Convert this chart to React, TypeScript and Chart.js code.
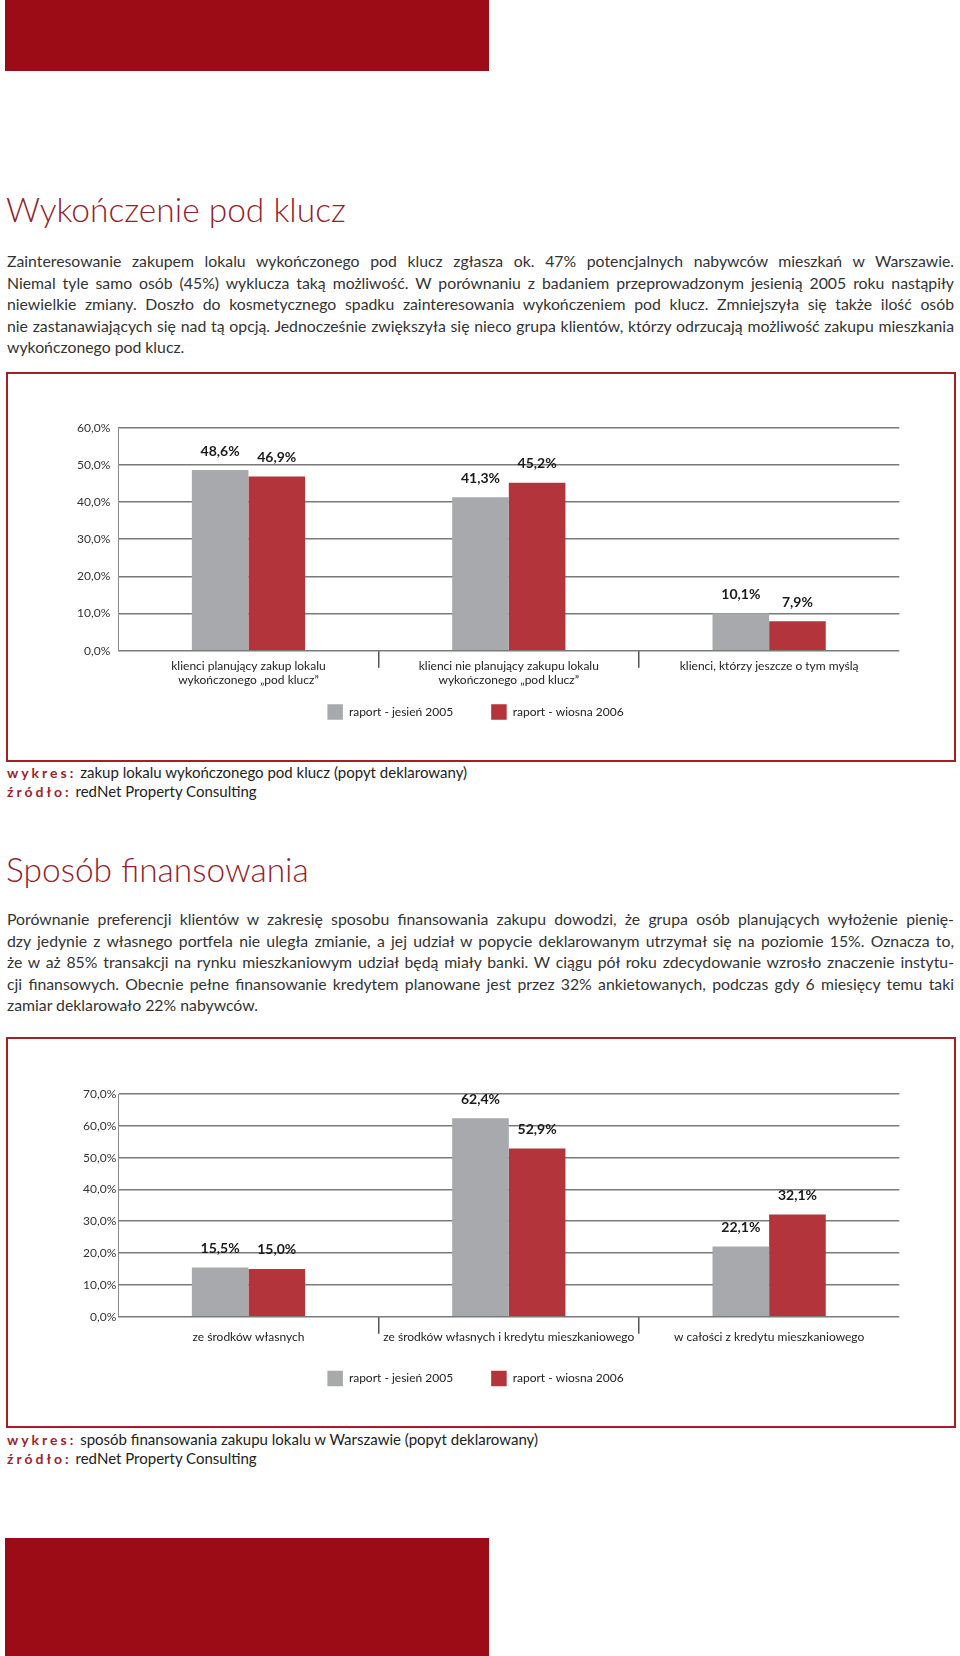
import React, { useEffect, useRef } from 'react';
import { Chart, registerables } from 'chart.js';

Chart.register(...registerables);

// ---------- data ----------
const seriesNames = ['raport - jesień 2005', 'raport - wiosna 2006'];
const seriesColors = ['#a7a9ac', '#b3343a'];

const chart1Categories: (string | string[])[] = [
  ['klienci planujący zakup lokalu', 'wykończonego „pod klucz”'],
  ['klienci nie planujący zakupu lokalu', 'wykończonego „pod klucz”'],
  'klienci, którzy jeszcze o tym myślą',
];
const chart1Autumn2005 = [48.6, 41.3, 10.1];
const chart1Spring2006 = [46.9, 45.2, 7.9];
const chart1YMax = 60;

const chart2Categories: (string | string[])[] = [
  'ze środków własnych',
  'ze środków własnych i kredytu mieszkaniowego',
  'w całości z kredytu mieszkaniowego',
];
const chart2Autumn2005 = [15.5, 62.4, 22.1];
const chart2Spring2006 = [15.0, 52.9, 32.1];
const chart2YMax = 70;
const yStep = 10;

const title1 = 'Wykończenie pod klucz';
const para1Lines = [
  'Zainteresowanie zakupem lokalu wykończonego pod klucz zgłasza ok. 47% potencjalnych nabywców mieszkań w Warszawie.',
  'Niemal tyle samo osób (45%) wyklucza taką możliwość. W porównaniu z badaniem przeprowadzonym jesienią 2005 roku nastąpiły',
  'niewielkie zmiany. Doszło do kosmetycznego spadku zainteresowania wykończeniem pod klucz. Zmniejszyła się także ilość osób',
  'nie zastanawiających się nad tą opcją. Jednocześnie zwiększyła się nieco grupa klientów, którzy odrzucają możliwość zakupu mieszkania',
  'wykończonego pod klucz.',
];
const caption1 = 'zakup lokalu wykończonego pod klucz (popyt deklarowany)';

const title2 = 'Sposób finansowania';
const para2Lines = [
  'Porównanie preferencji klientów w zakresię sposobu finansowania zakupu dowodzi, że grupa osób planujących wyłożenie pienię-',
  'dzy jedynie z własnego portfela nie uległa zmianie, a jej udział w popycie deklarowanym utrzymał się na poziomie 15%. Oznacza to,',
  'że w aż 85% transakcji na rynku mieszkaniowym udział będą miały banki. W ciągu pół roku zdecydowanie wzrosło znaczenie instytu-',
  'cji finansowych. Obecnie pełne finansowanie kredytem planowane jest przez 32% ankietowanych, podczas gdy 6 miesięcy temu taki',
  'zamiar deklarowało 22% nabywców.',
];
const caption2 = 'sposób finansowania zakupu lokalu w Warszawie (popyt deklarowany)';
const sourceText = 'redNet Property Consulting';

// ---------- styles ----------
const FONT = 'Lato, "Open Sans", "DejaVu Sans", sans-serif';
const DARK_RED = '#9c0c16';
const TITLE_RED = '#941f2c';
const BORDER_RED = '#a51d27';

const fmt = (v: number) => v.toFixed(1).replace('.', ',') + '%';

const valueLabelPlugin = {
  id: 'valueLabels',
  afterDatasetsDraw(chart: any) {
    const ctx = chart.ctx;
    ctx.save();
    ctx.font = `bold 14px ${FONT}`;
    ctx.fillStyle = '#1a1a1a';
    ctx.textAlign = 'center';
    ctx.textBaseline = 'alphabetic';
    chart.data.datasets.forEach((ds: any, di: number) => {
      const meta = chart.getDatasetMeta(di);
      meta.data.forEach((bar: any, i: number) => {
        ctx.fillText(fmt(ds.data[i]), bar.x, bar.y - 14.5);
      });
    });
    ctx.restore();
  },
};

type ChartProps = {
  labels: (string | string[])[];
  a: number[];
  b: number[];
  yMax: number;
  width: number;
  height: number;
  padTop: number;
  padBottom: number;
  xHeight: number;
  xTickPad: number;
  yTickPad: number;
};

function BarChart(p: ChartProps) {
  const ref = useRef<HTMLCanvasElement | null>(null);
  useEffect(() => {
    if (!ref.current) return;
    const chart = new Chart(ref.current, {
      type: 'bar',
      data: {
        labels: p.labels as any,
        datasets: [
          {
            label: seriesNames[0],
            data: p.a,
            backgroundColor: seriesColors[0],
            borderColor: seriesColors[0],
            borderWidth: 0,
            categoryPercentage: 0.435,
            barPercentage: 1,
          },
          {
            label: seriesNames[1],
            data: p.b,
            backgroundColor: seriesColors[1],
            borderColor: seriesColors[1],
            borderWidth: 0,
            categoryPercentage: 0.435,
            barPercentage: 1,
          },
        ],
      },
      options: {
        responsive: false,
        animation: false,
        events: [],
        layout: {
          padding: { left: 43.7, right: 54.7, top: p.padTop, bottom: p.padBottom },
        },
        plugins: {
          tooltip: { enabled: false },
          legend: {
            position: 'bottom',
            labels: {
              boxWidth: 15.5,
              boxHeight: 15.5,
              padding: 38,
              color: '#222',
              font: { family: FONT, size: 12 },
            },
          },
        },
        scales: {
          x: {
            grid: {
              offset: true,
              drawOnChartArea: false,
              drawTicks: true,
              tickLength: 17,
              lineWidth: 1.5,
              color: (ctx: any) =>
                ctx.type === 'tick' && ctx.index > 0 ? '#555555' : 'rgba(0,0,0,0)',
            },
            border: { display: false },
            ticks: {
              mirror: true,
              padding: p.xTickPad,
              autoSkip: false,
              maxRotation: 0,
              minRotation: 0,
              color: '#222',
              font: { family: FONT, size: 12, lineHeight: 14 / 12 },
            },
            afterFit: (s: any) => {
              s.height = p.xHeight;
            },
          },
          y: {
            min: 0,
            max: p.yMax,
            ticks: {
              stepSize: yStep,
              padding: p.yTickPad,
              color: '#333',
              font: { family: FONT, size: 12 },
              callback: (v: any) => fmt(Number(v)),
            },
            grid: { color: '#7a7a7a', lineWidth: 1.6, drawTicks: false },
            border: { display: true, color: '#8a8a8a', width: 1 },
            afterFit: (s: any) => {
              s.width = 66.6;
            },
          },
        },
      } as any,
      plugins: [valueLabelPlugin],
    });
    return () => chart.destroy();
  }, []);
  return (
    <canvas
      ref={ref}
      width={p.width}
      height={p.height}
      style={{ display: 'block', width: p.width, height: p.height }}
    />
  );
}

function Paragraph({ lines, top }: { lines: string[]; top: number }) {
  return (
    <div
      style={{
        position: 'absolute',
        left: 7,
        top,
        width: 947,
        fontSize: 15.8,
        lineHeight: '21.5px',
        color: '#333',
      }}
    >
      {lines.map((l, i) => (
        <div
          key={i}
          style={{
            height: 21.5,
            textAlign: i === lines.length - 1 ? 'left' : 'justify',
            textAlignLast: i === lines.length - 1 ? 'left' : 'justify',
          } as any}
        >
          {l}
        </div>
      ))}
    </div>
  );
}

function Title({ text, top }: { text: string; top: number }) {
  return (
    <div
      style={{
        position: 'absolute',
        left: 6,
        top,
        fontSize: 33.5,
        lineHeight: '40px',
        fontWeight: 300,
        color: TITLE_RED,
        whiteSpace: 'nowrap',
      }}
    >
      {text}
    </div>
  );
}

function Caption({ text, top }: { text: string; top: number }) {
  const lab = {
    color: '#a01f2b',
    fontWeight: 700,
    fontSize: 14,
    letterSpacing: '3px',
  } as const;
  return (
    <div
      style={{
        position: 'absolute',
        left: 7,
        top,
        fontSize: 15,
        lineHeight: '19px',
        color: '#222',
        whiteSpace: 'nowrap',
      }}
    >
      <div>
        <span style={lab}>wykres:</span> {text}
      </div>
      <div>
        <span style={lab}>źródło:</span> {sourceText}
      </div>
    </div>
  );
}

export default function App() {
  return (
    <div
      style={{
        position: 'absolute',
        left: 0,
        top: 0,
        width: 960,
        height: 1656,
        overflow: 'hidden',
        background: '#fff',
        fontFamily: FONT,
      }}
    >
      <div style={{ position: 'absolute', left: 5, top: 0, width: 484, height: 71, background: DARK_RED }} />

      <Title text={title1} top={188.7} />
      <Paragraph lines={para1Lines} top={250.44} />

      <div
        style={{
          position: 'absolute',
          left: 6,
          top: 372,
          width: 950,
          height: 390,
          boxSizing: 'border-box',
          border: `2px solid ${BORDER_RED}`,
          background: '#fff',
        }}
      >
        <BarChart
          labels={chart1Categories}
          a={chart1Autumn2005}
          b={chart1Spring2006}
          yMax={chart1YMax}
          width={946}
          height={386}
          padTop={53.7}
          padBottom={30.2}
          xHeight={15.6}
          xTickPad={-22.3}
          yTickPad={8}
        />
      </div>
      <Caption text={caption1} top={763} />

      <Title text={title2} top={848.7} />
      <Paragraph lines={para2Lines} top={908.14} />

      <div
        style={{
          position: 'absolute',
          left: 6,
          top: 1037,
          width: 950,
          height: 391,
          boxSizing: 'border-box',
          border: `2px solid ${BORDER_RED}`,
          background: '#fff',
        }}
      >
        <BarChart
          labels={chart2Categories}
          a={chart2Autumn2005}
          b={chart2Spring2006}
          yMax={chart2YMax}
          width={946}
          height={387}
          padTop={55}
          padBottom={29.8}
          xHeight={16}
          xTickPad={-27.6}
          yTickPad={2}
        />
      </div>
      <Caption text={caption2} top={1429.7} />

      <div style={{ position: 'absolute', left: 5, top: 1538, width: 484, height: 118, background: DARK_RED }} />
    </div>
  );
}
